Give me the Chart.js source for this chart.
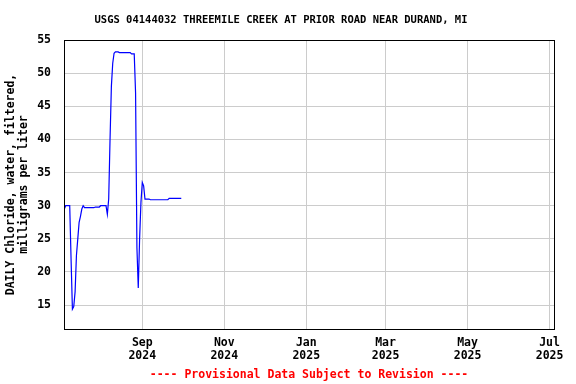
<!DOCTYPE html>
<html>
<head>
<meta charset="utf-8">
<script src="https://cdn.jsdelivr.net/npm/chart.js@4/dist/chart.umd.min.js"></script>
<style>
  html, body { margin: 0; padding: 0; background: #fff; }
  canvas { display: block; }
</style>
</head>
<body>
<canvas id="chart" width="576" height="384"></canvas>
<script>
// daily chloride series, one value per day starting at SERIES_START
const SERIES_START = '2024-07-05';
const chlorideValues = [
  29.5, 30.0, 30.0, 30.0, 30.0, 22.0, 14.4, 14.8, 17.0, 22.5,
  25.0, 27.5, 28.4, 29.5, 30.0, 29.7, 29.7, 29.7, 29.7, 29.7,
  29.7, 29.7, 29.7, 29.8, 29.8, 29.8, 29.8, 30.0, 30.0, 30.0,
  30.0, 30.0, 28.7, 31.0, 40.0, 48.0, 51.5, 53.0, 53.2, 53.2,
  53.2, 53.1, 53.1, 53.1, 53.1, 53.1, 53.1, 53.1, 53.1, 53.1,
  52.9, 52.9, 52.9, 47.0, 23.7, 17.6, 25.0, 30.5, 33.5, 33.0,
  31.0, 31.0, 31.0, 31.0, 30.9, 30.9, 30.9, 30.9, 30.9, 30.9,
  30.9, 30.9, 30.9, 30.9, 30.9, 30.9, 30.9, 30.9, 31.1, 31.1,
  31.1, 31.1, 31.1, 31.1, 31.1, 31.1, 31.1, 31.1
];

const xTickDates = ['2024-09-01', '2024-11-01', '2025-01-01', '2025-03-01', '2025-05-01', '2025-07-01'];
const xTickLabels = [['Sep', '2024'], ['Nov', '2024'], ['Jan', '2025'], ['Mar', '2025'], ['May', '2025'], ['Jul', '2025']];
const yTickValues = [15, 20, 25, 30, 35, 40, 45, 50, 55];

const TITLE = 'USGS 04144032 THREEMILE CREEK AT PRIOR ROAD NEAR DURAND, MI';
const FOOTER = '---- Provisional Data Subject to Revision ----';
const Y_TITLE = ['DAILY Chloride, water, filtered,', 'milligrams per liter'];

const MONO = "'DejaVu Sans Mono', 'Liberation Mono', monospace";
const DAY = 86400000;
const dayNum = s => Date.UTC(+s.slice(0, 4), +s.slice(5, 7) - 1, +s.slice(8, 10)) / DAY;

const start = dayNum(SERIES_START);
const points = chlorideValues.map((v, i) => ({ x: start + i, y: v }));
const tickDays = xTickDates.map(dayNum);

const frame = {
  id: 'frame',
  afterDraw(chart) {
    const { ctx, chartArea: a } = chart;
    ctx.save();
    ctx.strokeStyle = '#000';
    ctx.lineWidth = 1;
    ctx.strokeRect(Math.round(a.left) + 0.5, Math.round(a.top) + 0.5, Math.round(a.right - a.left), Math.round(a.bottom - a.top));
    ctx.textAlign = 'center';
    ctx.textBaseline = 'middle';
    ctx.fillStyle = '#000';
    ctx.font = `bold 10.5px ${MONO}`;
    ctx.fillText(TITLE, 281, 20);
    ctx.fillStyle = '#ff0000';
    ctx.font = `bold 11.5px ${MONO}`;
    ctx.fillText(FOOTER, 309, 375);
    ctx.restore();
  }
};

const tickFont = { family: MONO, size: 11.5, weight: 'bold', lineHeight: 1.1 };

new Chart(document.getElementById('chart'), {
  type: 'line',
  data: {
    datasets: [{
      data: points,
      borderColor: '#0000ff',
      borderWidth: 1.2,
      pointRadius: 0,
      tension: 0,
      fill: false
    }]
  },
  options: {
    responsive: false,
    animation: false,
    events: [],
    layout: { padding: { top: 40, right: 22, left: 0, bottom: 0 } },
    plugins: { legend: { display: false }, tooltip: { enabled: false }, title: { display: false } },
    scales: {
      x: {
        type: 'linear',
        min: dayNum('2024-07-05') - 0.25,
        max: dayNum('2025-07-04') + 0.3,
        afterBuildTicks: s => { s.ticks = tickDays.map(v => ({ value: v })); },
        afterFit: s => { s.height = 55; },
        grid: { color: '#cccccc', lineWidth: 1, drawTicks: false },
        border: { display: false },
        ticks: {
          padding: 8,
          color: '#000',
          font: tickFont,
          maxRotation: 0,
          autoSkip: false,
          callback: v => xTickLabels[tickDays.indexOf(v)] || ''
        }
      },
      y: {
        type: 'linear',
        min: 11.4,
        max: 55,
        afterBuildTicks: s => { s.ticks = yTickValues.map(v => ({ value: v })); },
        afterFit: s => { s.width = 64; },
        grid: { color: '#cccccc', lineWidth: 1, drawTicks: false },
        border: { display: false },
        ticks: { padding: 13, color: '#000', font: tickFont },
        title: {
          display: true,
          text: Y_TITLE,
          color: '#000',
          font: { family: MONO, size: 11.5, weight: 'bold', lineHeight: 1.13 },
          padding: { top: 5, bottom: 0 }
        }
      }
    }
  },
  plugins: [frame]
});
</script>
</body>
</html>
